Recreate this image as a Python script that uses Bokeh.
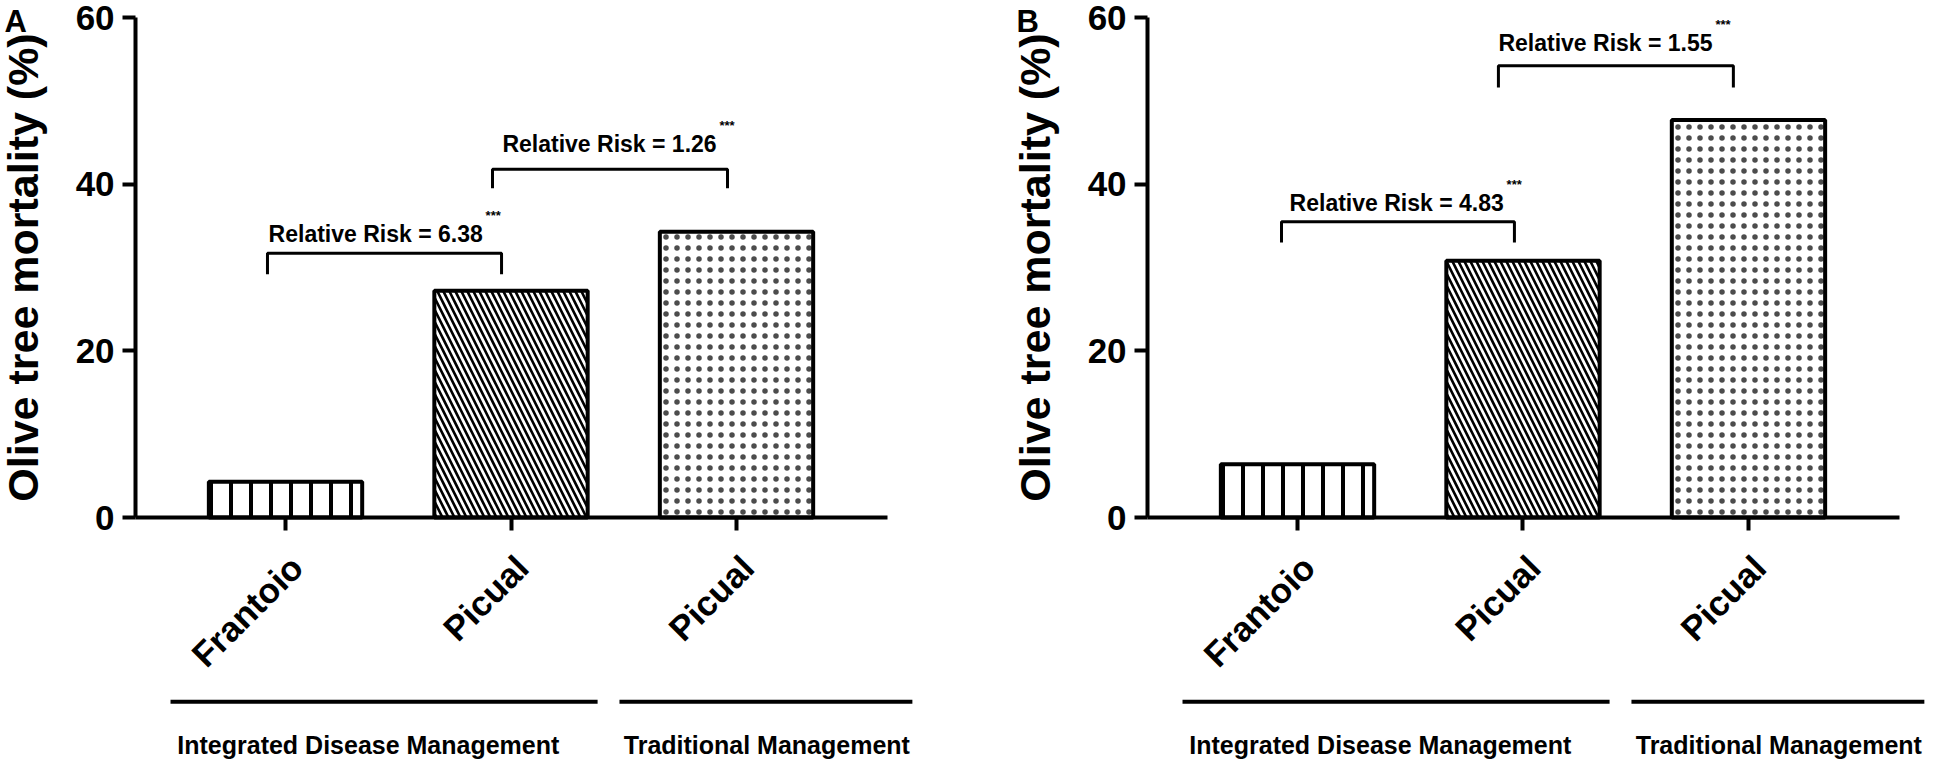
import math
from bokeh.plotting import figure
from bokeh.models import FixedTicker, ColumnDataSource, Range1d, LinearAxis
from bokeh.layouts import row
from bokeh.embed import file_html
from bokeh.resources import INLINE
from bokeh.core.properties import value

# ---------------- data ----------------
cultivars = ["Frantoio", "Picual", "Picual"]
management_groups = ["Integrated Disease Management", "Traditional Management"]
mortality_A = [4.3, 27.2, 34.3]
mortality_B = [6.4, 30.8, 47.7]
relative_risk_A = ["6.38", "1.26"]
relative_risk_B = ["4.83", "1.55"]
y_ticks = [0, 20, 40, 60]

# ---------------- layout / style (not data) ----------------
FONT = "Liberation Sans"
bar_styles = dict(
    hatch_pattern=["|", "\\", "."],
    hatch_scale=[20, 12, 11],
    hatch_weight=[4, 2.6, 1.5],
    hatch_alpha=[1.0, 1.0, 0.7],
)
# bracket geometry per panel (data units)
brackets_A = dict(x0=[-0.08, 0.918], x1=[0.958, 1.96], top=[31.7, 41.8],
                  leg=[29.2, 39.5], tx=[-0.075, 0.962], ty=[34.0, 44.8])
brackets_B = dict(x0=[-0.071, 0.891], x1=[0.962, 1.933], top=[35.5, 54.2],
                  leg=[33.0, 51.6], tx=[-0.035, 0.891], ty=[37.8, 57.0])
group_line_x = [(-0.51, 1.384), (1.481, 2.78)]
group_text_x = [-0.48, 1.50]
group_line_y = -22.1
group_text_y = -27.3
axis_x_bounds = (-0.665, 2.67)
letter_pos = (-1.246, 59.5)
label_shift = 0.049   # rotated tick labels sit slightly right of their tick marks


def style_common(ax, size):
    ax.major_label_text_font = FONT
    ax.major_label_text_font_style = "bold"
    ax.major_label_text_font_size = size
    ax.major_label_text_color = "black"
    ax.minor_tick_out = 0
    ax.minor_tick_in = 0
    ax.major_tick_in = 0


def make_panel(letter, values, rr, br, width, x_end):
    p = figure(width=width, height=760,
               x_range=Range1d(-1.264, x_end), y_range=Range1d(-29.16, 62.04),
               output_backend="svg", toolbar_location=None,
               min_border_left=0, min_border_right=0,
               min_border_top=0, min_border_bottom=0)
    p.outline_line_color = None
    p.grid.visible = False
    p.background_fill_color = "white"

    src = ColumnDataSource(dict(x=list(range(len(cultivars))), top=values, **bar_styles))
    p.vbar(x="x", top="top", width=0.68, source=src,
           fill_color="white", line_color="black", line_width=4,
           hatch_pattern="hatch_pattern", hatch_scale="hatch_scale",
           hatch_weight="hatch_weight", hatch_alpha="hatch_alpha",
           hatch_color="black")

    # y axis
    ya = p.yaxis[0]
    ya.fixed_location = axis_x_bounds[0]
    ya.bounds = (y_ticks[0], y_ticks[-1])
    ya.ticker = FixedTicker(ticks=y_ticks)
    ya.axis_label = "Olive tree mortality (%)"
    ya.axis_label_text_font = FONT
    ya.axis_label_text_font_style = "bold"
    ya.axis_label_text_font_size = "43px"
    ya.axis_label_standoff = 26
    ya.axis_label_text_color = "black"
    style_common(ya, "35px")
    ya.major_label_standoff = 8
    ya.major_tick_out = 13
    ya.axis_line_width = 4
    ya.major_tick_line_width = 4
    ya.axis_line_color = "black"
    ya.major_tick_line_color = "black"

    # x axis: line and tick marks
    xa = p.xaxis[0]
    xa.fixed_location = 0
    xa.bounds = axis_x_bounds
    xa.ticker = FixedTicker(ticks=list(range(len(cultivars))))
    xa.major_label_text_font_size = "0px"
    xa.major_label_text_color = None
    xa.minor_tick_out = 0
    xa.minor_tick_in = 0
    xa.major_tick_in = 0
    xa.major_tick_out = 13
    xa.axis_line_width = 4
    xa.major_tick_line_width = 4
    xa.axis_line_color = "black"
    xa.major_tick_line_color = "black"

    # x axis: rotated cultivar labels
    lab_ticks = [i + label_shift for i in range(len(cultivars))]
    xl = LinearAxis(fixed_location=0, ticker=FixedTicker(ticks=lab_ticks),
                    major_label_overrides={t: c for t, c in zip(lab_ticks, cultivars)},
                    major_label_orientation=math.pi / 4)
    style_common(xl, "35px")
    xl.major_label_standoff = 31
    xl.major_tick_out = 13
    xl.major_tick_line_color = None
    xl.axis_line_color = None
    p.add_layout(xl, "below")

    # significance brackets
    xs = [[a, a, b, b] for a, b in zip(br["x0"], br["x1"])]
    ys = [[l, t, t, l] for l, t in zip(br["leg"], br["top"])]
    p.multi_line(xs=xs, ys=ys, line_color="black", line_width=3)
    p.text(x=br["tx"], y=br["ty"], text=["Relative Risk = " + r for r in rr],
           text_font=value(FONT), text_font_style="bold", text_font_size="23px",
           text_baseline="alphabetic", text_align="left", text_color="black")
    p.text(x=br["tx"], y=[t + 3.1 for t in br["ty"]], text=["***"] * len(rr),
           x_offset=217, text_font=value(FONT), text_font_style="bold",
           text_font_size="13px", text_baseline="top", text_align="left",
           text_color="black")

    # management group lines & labels below the axis
    p.segment(x0=[g[0] for g in group_line_x], x1=[g[1] for g in group_line_x],
              y0=[group_line_y] * len(group_line_x), y1=[group_line_y] * len(group_line_x),
              line_color="black", line_width=4)
    p.text(x=group_text_x, y=[group_text_y] * len(group_text_x), text=management_groups,
           text_font=value(FONT), text_font_style="bold", text_font_size="25px",
           text_baseline="alphabetic", text_align="left", text_color="black")

    # panel letter
    p.text(x=[letter_pos[0]], y=[letter_pos[1]], text=[letter],
           text_font=value(FONT), text_font_style="bold", text_font_size="31px",
           text_baseline="alphabetic", text_align="left", text_color="black")
    return p


pA = make_panel("A", mortality_A, relative_risk_A, brackets_A, 1012, 3.224)
pB = make_panel("B", mortality_B, relative_risk_B, brackets_B, 922, 2.825)
layout = row(pA, pB)
open("out.html", "w").write(file_html(layout, INLINE))
